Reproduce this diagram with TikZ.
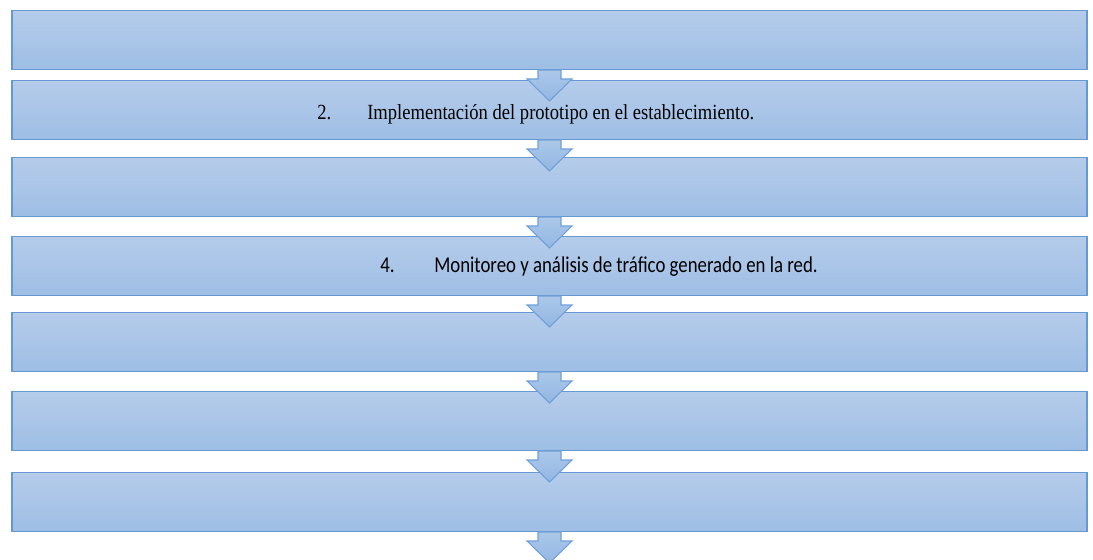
\documentclass[tikz,border=0pt]{standalone}
\usepackage{fontspec}
\usepackage{tikz}
\usetikzlibrary{positioning}
\newfontfamily\stepserif[FakeStretch=0.86]{Liberation Serif}
\newfontfamily\stepsans[FakeStretch=0.83]{Carlito}
\definecolor{boxtop}{RGB}{181,204,234}
\definecolor{boxbot}{RGB}{158,190,229}
\definecolor{boxline}{RGB}{102,153,212}
\definecolor{arrtop}{RGB}{172,200,234}
\definecolor{arrbot}{RGB}{146,182,226}
\definecolor{arrline}{RGB}{112,160,216}
\tikzset{stepbox/.style = {draw=boxline, top color=boxtop, bottom color=boxbot,
                           line width=1.1, minimum width=806.25pt, minimum height=43.9pt,
                           inner sep=0, anchor=north}}
\tikzset{blockarr/.style = {draw=arrline, top color=arrtop, bottom color=arrbot, line width=0.8}}
\tikzset{steptext/.style = {anchor=base west, inner sep=0, text=black}}
\newcommand{\downarr}[1]{\draw [blockarr] (#1) ++(-11.5, 0) -- ++(0, 9) -- ++(-11, 0)
  -- ++(22.5, 22) -- ++(22.5, -22) -- ++(-11, 0) -- ++(0, -9) -- cycle;}

\begin{document}
\begin{tikzpicture}[x=0.75pt, y=-0.75pt]
      \useasboundingbox (0, 0) rectangle (1093, 560);

      \foreach \n/\ytop in {1/10, 2/80, 3/157, 4/236, 5/312, 6/391, 7/472}
        {\node [stepbox] (box\n) at (549.5, \ytop) {};}

      \foreach \n in {1, ..., 7}
        {\downarr{box\n.south}}

      \node [steptext, font=\stepserif\fontsize{16.2}{19}\selectfont] (label2) at (317, 119.3)
        {\makebox[37.5pt][l]{2.}Implementación del prototipo en el establecimiento.};
      \node [steptext, font=\stepsans\fontsize{17}{20}\selectfont] (label4) at (380, 272.7)
        {\makebox[40.5pt][l]{4.}Monitoreo y análisis de tráfico generado en la red.};
    \end{tikzpicture}
\end{document}
